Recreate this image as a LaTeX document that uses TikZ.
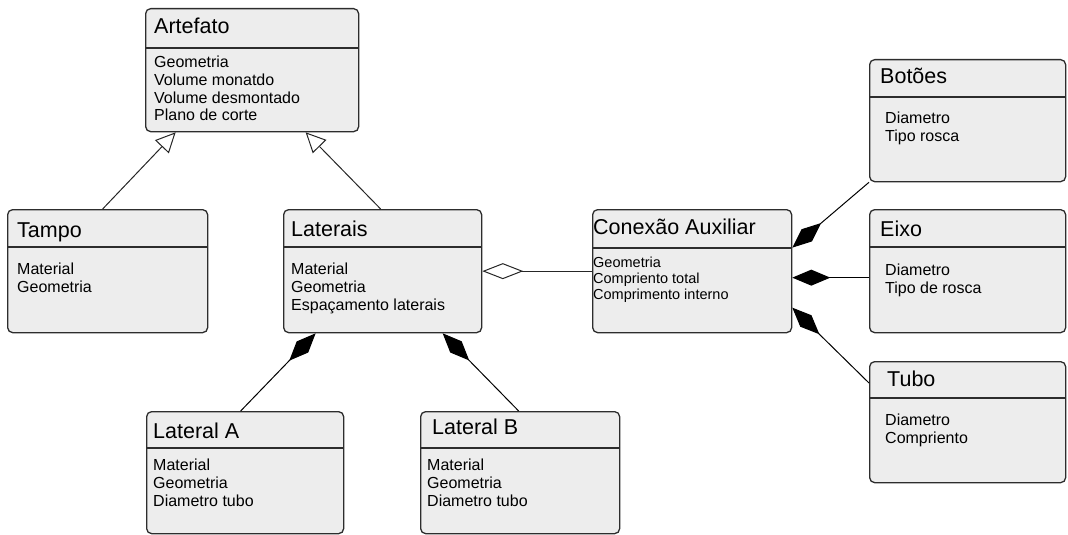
\documentclass[tikz,border=0pt]{standalone}
\usepackage{fontspec}
\setmainfont{Liberation Sans}
\usepackage{xcolor}
\usetikzlibrary{arrows.meta}

\definecolor{caixa}{RGB}{237,237,237}
\definecolor{borda}{RGB}{45,45,45}

\begin{document}
\begin{tikzpicture}[x=1pt, y=-1pt,
    classe/.style={draw=borda, fill=caixa, line width=1.3pt, rounded corners=5pt, anchor=north west, inner sep=0pt},
    titulo/.style={anchor=base west, inner sep=0pt, text=black, font=\fontsize{21.5}{25}\selectfont},
    corpo/.style={anchor=north west, inner sep=0pt, align=left, text=black, font=\fontsize{16}{17.7}\selectfont},
    divisor/.style={draw=borda, line width=1.3pt},
    heranca/.style={draw=black!85, line width=1pt, -{Triangle[open, length=20pt, width=19pt, fill=white]}},
    composicao/.style={draw=black, line width=1pt, -{Diamond[length=38pt, width=16pt]}},
    agregacao/.style={draw=black!85, line width=1pt, -{Diamond[open, length=41pt, width=16pt, fill=white]}}]
    \useasboundingbox (0,0) rectangle (1068,535);

    % caixas
    \node[classe, minimum width=213pt, minimum height=123pt] (artefato) at (145,8) {};
    \node[classe, minimum width=200pt, minimum height=123pt] (tampo) at (7,209) {};
    \node[classe, minimum width=198pt, minimum height=123pt] (laterais) at (283,209) {};
    \node[classe, minimum width=199pt, minimum height=123pt] (conexao) at (592,209) {};
    \node[classe, minimum width=196pt, minimum height=122pt] (botoes) at (869,59) {};
    \node[classe, minimum width=196pt, minimum height=123pt] (eixo) at (869,209) {};
    \node[classe, minimum width=196pt, minimum height=121pt] (tubo) at (869,361) {};
    \node[classe, minimum width=197pt, minimum height=122pt] (lateralA) at (146,411) {};
    \node[classe, minimum width=199pt, minimum height=122pt] (lateralB) at (420,411) {};

    % divisores
    \draw[divisor] (artefato.west |- 0,48) -- (artefato.east |- 0,48);
    \draw[divisor] (tampo.west |- 0,247) -- (tampo.east |- 0,247);
    \draw[divisor] (laterais.west |- 0,247) -- (laterais.east |- 0,247);
    \draw[divisor] (conexao.west |- 0,248) -- (conexao.east |- 0,248);
    \draw[divisor] (botoes.west |- 0,97) -- (botoes.east |- 0,97);
    \draw[divisor] (eixo.west |- 0,247) -- (eixo.east |- 0,247);
    \draw[divisor] (tubo.west |- 0,398) -- (tubo.east |- 0,398);
    \draw[divisor] (lateralA.west |- 0,448) -- (lateralA.east |- 0,448);
    \draw[divisor] (lateralB.west |- 0,448) -- (lateralB.east |- 0,448);

    % titulos
    \node[titulo] (artefatoT) at (154,34) {Artefato};
    \node[titulo] (tampoT) at (17,237) {Tampo};
    \node[titulo] (lateraisT) at (291,236) {Laterais};
    \node[titulo] (conexaoT) at (593,234) {Conexão Auxiliar};
    \node[titulo] (botoesT) at (880,84) {Botões};
    \node[titulo] (eixoT) at (880,236) {Eixo};
    \node[titulo] (tuboT) at (887,386) {Tubo};
    \node[titulo] (lateralAT) at (153,438) {Lateral A};
    \node[titulo] (lateralBT) at (432,434) {Lateral B};

    % atributos
    \node[corpo] (artefatoC) at (154,56) {Geometria\\Volume monatdo\\Volume desmontado\\Plano de corte};
    \node[corpo] (tampoC) at (17,263) {Material\\Geometria};
    \node[corpo] (lateraisC) at (291,263) {Material\\Geometria\\Espaçamento laterais};
    \node[corpo, font=\fontsize{14.5}{16}\selectfont] (conexaoC) at (593,257) {Geometria\\Compriento total\\Comprimento interno};
    \node[corpo] (botoesC) at (885,112) {Diametro\\Tipo rosca};
    \node[corpo] (eixoC) at (885,264) {Diametro\\Tipo de rosca};
    \node[corpo] (tuboC) at (885,414) {Diametro\\Compriento};
    \node[corpo] (lateralAC) at (153,459) {Material\\Geometria\\Diametro tubo};
    \node[corpo] (lateralBC) at (427,459) {Material\\Geometria\\Diametro tubo};

    % ligacoes
    \draw[heranca] ([xshift=-5pt]tampo.north) -- ([xshift=-76.5pt]artefato.south);
    \draw[heranca] ([xshift=-2pt]laterais.north) -- ([xshift=53.5pt]artefato.south);
    \draw[agregacao] (conexao.west) -- (laterais.east);
    \draw[composicao] ([xshift=-4.5pt]lateralA.north) -- ([xshift=-67pt]laterais.south);
    \draw[composicao] ([xshift=-1.5pt]lateralB.north) -- ([xshift=60pt]laterais.south);
    \draw[composicao] (botoes.south west) -- ([yshift=23.5pt]conexao.east);
    \draw[composicao] ([yshift=-6.5pt]eixo.west) -- ([yshift=-6.5pt]conexao.east);
    \draw[composicao] ([yshift=-22pt]tubo.north west) -- ([yshift=-36.5pt]conexao.east);
\end{tikzpicture}
\end{document}
